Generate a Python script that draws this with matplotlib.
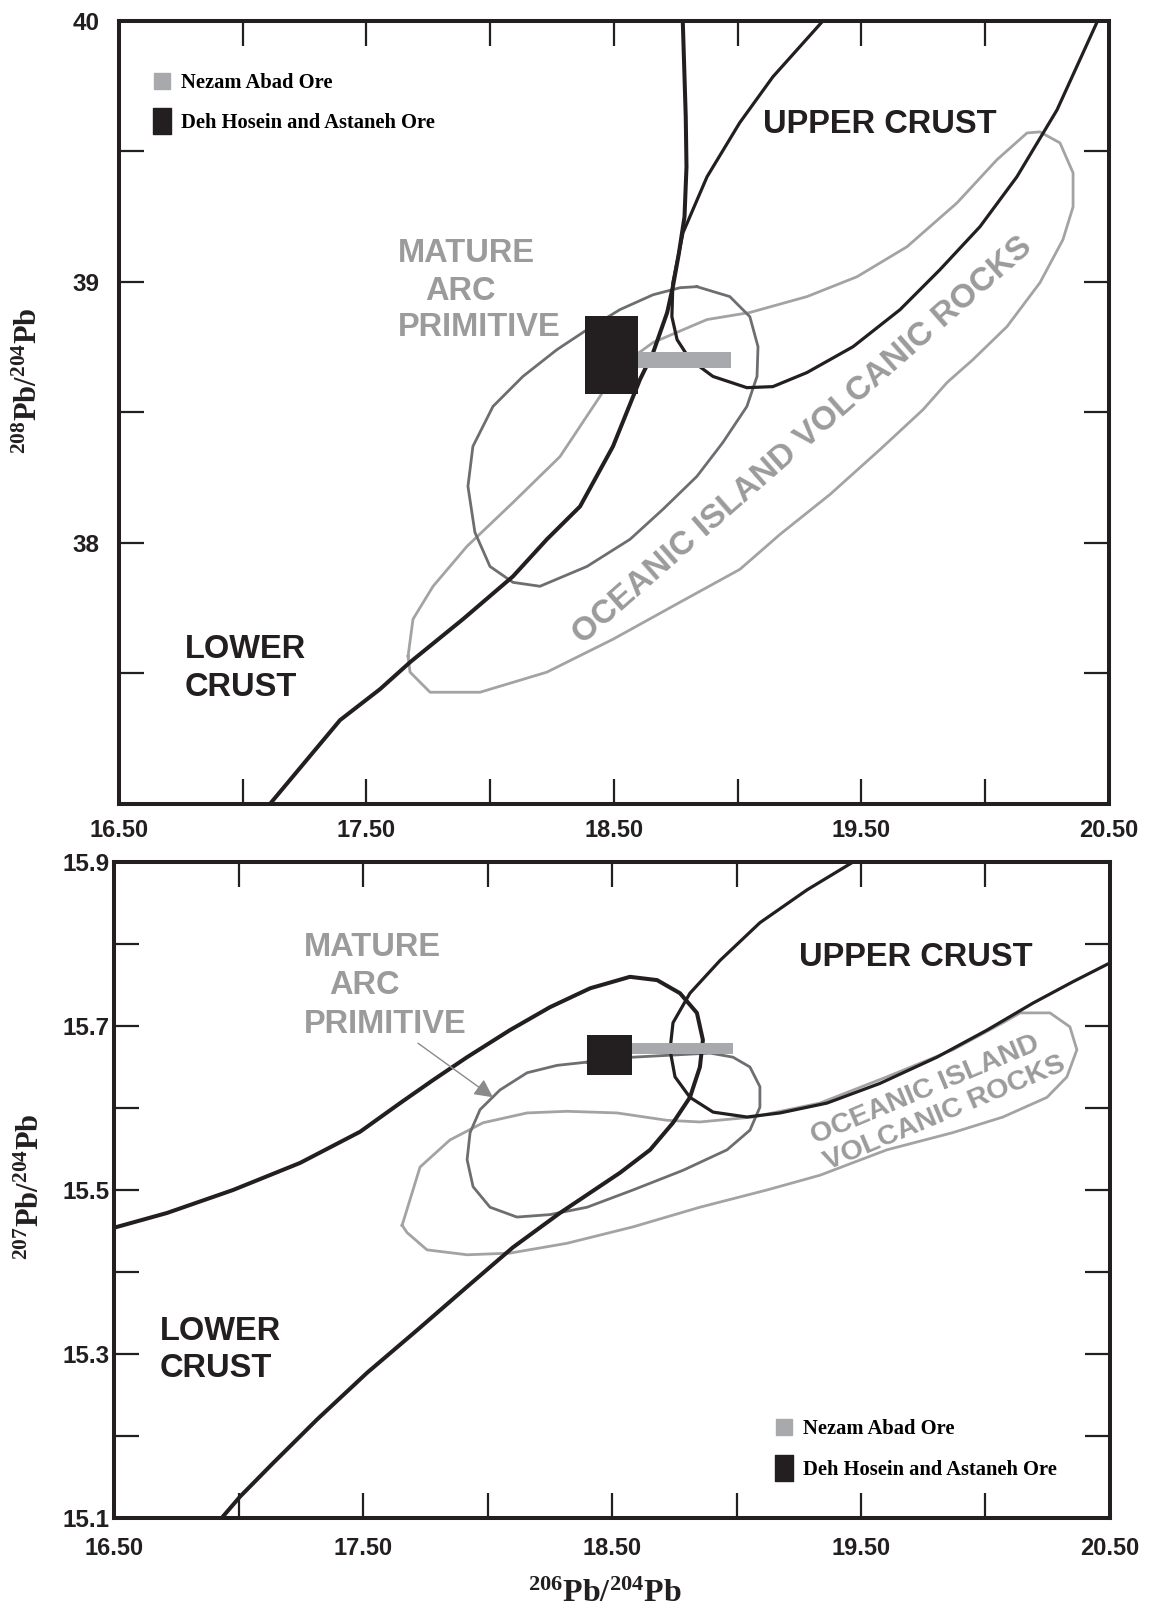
import matplotlib
matplotlib.use('Agg')
import matplotlib.pyplot as plt
from matplotlib.lines import Line2D
from matplotlib.patches import Rectangle
from matplotlib.path import Path

plt.rcParams['mathtext.fontset'] = 'custom'
plt.rcParams['mathtext.rm'] = 'Liberation Serif:bold'
plt.rcParams['mathtext.it'] = 'Liberation Serif:bold'
plt.rcParams['mathtext.bf'] = 'Liberation Serif:bold'

# ---------------- data: top panel (208Pb/204Pb vs 206Pb/204Pb) ----------------
top_lc_x = [17.110, 17.393, 17.555, 17.676, 17.890, 18.092, 18.229, 18.363, 18.496, 18.605,
            18.658, 18.715, 18.738, 18.762, 18.785, 18.793, 18.790, 18.778]
top_lc_y = [37.000, 37.321, 37.440, 37.543, 37.708, 37.872, 38.014, 38.140, 38.370, 38.626,
            38.729, 38.883, 38.982, 39.108, 39.250, 39.441, 39.633, 40.000]

top_uc_x = [19.344, 19.142, 19.008, 18.876, 18.779, 18.738, 18.734, 18.755, 18.807, 18.900,
            19.037, 19.142, 19.280, 19.466, 19.656, 19.817, 19.979, 20.128, 20.290, 20.452]
top_uc_y = [40.000, 39.786, 39.610, 39.403, 39.189, 38.997, 38.867, 38.779, 38.703, 38.638,
            38.595, 38.599, 38.653, 38.752, 38.894, 39.047, 39.212, 39.403, 39.659, 39.996]

top_arc_x = [18.835, 18.968, 19.049, 19.082, 19.078, 19.037, 18.940, 18.835, 18.698, 18.565,
             18.391, 18.201, 18.092, 17.999, 17.938, 17.910, 17.930, 18.011, 18.132, 18.270,
             18.391, 18.524, 18.658, 18.767, 18.835]
top_arc_y = [38.982, 38.944, 38.867, 38.752, 38.638, 38.523, 38.385, 38.255, 38.129, 38.014,
             37.910, 37.834, 37.849, 37.910, 38.041, 38.217, 38.370, 38.523, 38.638, 38.741,
             38.817, 38.894, 38.951, 38.978, 38.982]

top_oib_x = [17.668, 17.688, 17.769, 17.906, 18.092, 18.282, 18.443, 18.524, 18.658, 18.876,
             19.049, 19.280, 19.482, 19.684, 19.886, 20.047, 20.169, 20.221, 20.302, 20.355,
             20.355, 20.314, 20.221, 20.088, 19.951, 19.846, 19.749, 19.575, 19.373, 19.171,
             19.009, 18.767, 18.496, 18.229, 17.959, 17.757, 17.676, 17.668]
top_oib_y = [37.566, 37.708, 37.834, 37.987, 38.155, 38.331, 38.561, 38.676, 38.768, 38.856,
             38.883, 38.944, 39.020, 39.135, 39.303, 39.468, 39.571, 39.575, 39.533, 39.418,
             39.288, 39.162, 38.997, 38.829, 38.703, 38.615, 38.511, 38.358, 38.186, 38.033,
             37.899, 37.773, 37.631, 37.505, 37.428, 37.428, 37.505, 37.566]

top_deh_x = [18.383, 18.597]
top_deh_y = [38.569, 38.871]
top_nez_x = [18.597, 18.973]
top_nez_y = [38.672, 38.733]

# ---------------- data: bottom panel (207Pb/204Pb vs 206Pb/204Pb) ----------------
bot_lc_x = [16.500, 16.713, 16.978, 17.247, 17.488, 17.649, 17.781, 17.918, 18.090, 18.251,
            18.412, 18.572, 18.681, 18.773, 18.841, 18.865, 18.853, 18.813, 18.745, 18.653,
            18.532, 18.291, 18.102, 17.918, 17.717, 17.516, 17.315, 17.139, 17.006, 16.938]
bot_lc_y = [15.454, 15.472, 15.500, 15.533, 15.571, 15.606, 15.634, 15.662, 15.695, 15.723,
            15.746, 15.760, 15.756, 15.740, 15.716, 15.683, 15.650, 15.613, 15.582, 15.549,
            15.521, 15.472, 15.430, 15.382, 15.329, 15.277, 15.220, 15.167, 15.126, 15.102]

bot_uc_x = [19.468, 19.283, 19.094, 18.934, 18.813, 18.745, 18.733, 18.753, 18.813, 18.906,
            19.042, 19.175, 19.363, 19.576, 19.805, 20.006, 20.191, 20.351, 20.500]
bot_uc_y = [15.900, 15.866, 15.826, 15.780, 15.740, 15.704, 15.671, 15.638, 15.613, 15.595,
            15.589, 15.594, 15.606, 15.630, 15.662, 15.695, 15.728, 15.754, 15.777]

bot_arc_x = [18.400, 18.279, 18.159, 18.050, 17.970, 17.930, 17.918, 17.942, 18.010, 18.118,
             18.251, 18.400, 18.584, 18.785, 18.962, 19.054, 19.094, 19.094, 19.054, 18.986,
             18.894, 18.584, 18.400]
bot_arc_y = [15.656, 15.652, 15.643, 15.622, 15.598, 15.570, 15.537, 15.504, 15.479, 15.467,
             15.470, 15.479, 15.500, 15.524, 15.549, 15.573, 15.601, 15.626, 15.650, 15.662,
             15.667, 15.662, 15.656]

bot_oib_x = [17.657, 17.729, 17.849, 17.982, 18.159, 18.319, 18.520, 18.721, 18.853, 19.066,
             19.335, 19.604, 19.869, 20.070, 20.139, 20.259, 20.339, 20.367, 20.327, 20.247,
             20.070, 19.869, 19.604, 19.335, 19.122, 18.853, 18.584, 18.319, 18.090, 17.918,
             17.757, 17.677, 17.657]
bot_oib_y = [15.457, 15.528, 15.561, 15.582, 15.594, 15.596, 15.594, 15.585, 15.583, 15.589,
             15.606, 15.638, 15.671, 15.704, 15.716, 15.716, 15.699, 15.671, 15.638, 15.613,
             15.589, 15.570, 15.549, 15.518, 15.500, 15.479, 15.455, 15.435, 15.423, 15.421,
             15.427, 15.448, 15.457]

bot_deh_x = [18.400, 18.580]
bot_deh_y = [15.640, 15.689]
bot_nez_x = [18.580, 18.986]
bot_nez_y = [15.666, 15.679]

x_ticks = [16.5, 17.0, 17.5, 18.0, 18.5, 19.0, 19.5, 20.0, 20.5]
x_ticklabels = ['16.50', '', '17.50', '', '18.50', '', '19.50', '', '20.50']
top_y_ticks = [37.0, 37.5, 38.0, 38.5, 39.0, 39.5, 40.0]
top_y_ticklabels = ['', '', '38', '', '39', '', '40']
bot_y_ticks = [15.1, 15.2, 15.3, 15.4, 15.5, 15.6, 15.7, 15.8, 15.9]
bot_y_ticklabels = ['15.1', '', '15.3', '', '15.5', '', '15.7', '', '15.9']

legend_labels = ['Nezam Abad Ore', 'Deh Hosein and Astaneh Ore']

# ---------------- style ----------------
BLACK = '#231f20'
DARK = '#6d6e71'
LIGHT = '#a3a3a3'
TXTGRAY = '#9b9b9b'
LEGGRAY = '#a7a9ac'
SANS = 'Liberation Sans'
NARROW = ['Liberation Sans Narrow', 'Liberation Sans']
SERIF = 'Liberation Serif'

fig = plt.figure(figsize=(11.53, 16.14), dpi=100)
ax1 = fig.add_axes([0.1032, 0.5019, 0.8586, 0.4851])
ax2 = fig.add_axes([0.0989, 0.0595, 0.8638, 0.4064])

tall = Path([(-0.34, -0.5), (0.34, -0.5), (0.34, 0.5), (-0.34, 0.5), (-0.34, -0.5)],
            [Path.MOVETO, Path.LINETO, Path.LINETO, Path.LINETO, Path.CLOSEPOLY])
handles = [Line2D([], [], ls='none', marker='s', markersize=12.2, color=LEGGRAY, mec=LEGGRAY),
           Line2D([], [], ls='none', marker=tall, markersize=18.7, color=BLACK, mec=BLACK)]


def style_axes(ax, yticks, ylabels, ylim, xpad, ypad):
    ax.set_xlim(16.5, 20.5)
    ax.set_ylim(*ylim)
    ax.set_xticks(x_ticks)
    ax.set_xticklabels(x_ticklabels)
    ax.set_yticks(yticks)
    ax.set_yticklabels(ylabels)
    ax.tick_params(direction='in', length=18, width=1.6, color=BLACK, top=True, right=True)
    ax.tick_params(axis='x', pad=xpad)
    ax.tick_params(axis='y', pad=ypad)
    for lab in ax.get_xticklabels():
        lab.set_family(NARROW)
        lab.set_fontweight('bold')
        lab.set_fontsize(17)
        lab.set_color(BLACK)
    for lab in ax.get_yticklabels():
        lab.set_family(SANS)
        lab.set_fontweight('bold')
        lab.set_fontsize(17.5)
        lab.set_color(BLACK)
    for sp in ax.spines.values():
        sp.set_linewidth(2.9)
        sp.set_color(BLACK)


def add_legend(ax, anchor):
    ax.legend(handles, legend_labels, loc='center left', bbox_to_anchor=anchor,
              frameon=False, borderpad=0, borderaxespad=0, handlelength=1.0,
              handletextpad=0.45, labelspacing=1.0,
              prop={'family': SERIF, 'weight': 'bold', 'size': 14.8})


# ---------- top panel ----------
ax = ax1
ax.plot(top_oib_x, top_oib_y, color=LIGHT, lw=2.0, zorder=2)
ax.plot(top_arc_x, top_arc_y, color=DARK, lw=2.0, zorder=2)
ax.plot(top_uc_x, top_uc_y, color=BLACK, lw=2.3, zorder=3)
ax.plot(top_lc_x, top_lc_y, color=BLACK, lw=2.9, zorder=3)
ax.add_patch(Rectangle((top_nez_x[0], top_nez_y[0]), top_nez_x[1] - top_nez_x[0],
                       top_nez_y[1] - top_nez_y[0], color=LEGGRAY, lw=0, zorder=4))
ax.add_patch(Rectangle((top_deh_x[0], top_deh_y[0]), top_deh_x[1] - top_deh_x[0],
                       top_deh_y[1] - top_deh_y[0], color=BLACK, lw=0, zorder=5))
style_axes(ax, top_y_ticks, top_y_ticklabels, (37.0, 40.0), 11, 14)

ax.text(19.575, 39.602, 'UPPER CRUST', family=SANS, weight='bold', fontsize=23.5,
        color=BLACK, ha='center', va='center')
ax.text(17.627, 39.110, 'MATURE', family=SANS, weight='bold', fontsize=23.5,
        color=TXTGRAY, ha='left', va='center')
ax.text(17.736, 38.964, 'ARC', family=SANS, weight='bold', fontsize=23.5,
        color=TXTGRAY, ha='left', va='center')
ax.text(17.627, 38.825, 'PRIMITIVE', family=SANS, weight='bold', fontsize=23.5,
        color=TXTGRAY, ha='left', va='center')
ax.text(16.767, 37.590, 'LOWER', family=SANS, weight='bold', fontsize=23.5,
        color=BLACK, ha='left', va='center')
ax.text(16.767, 37.448, 'CRUST', family=SANS, weight='bold', fontsize=23.5,
        color=BLACK, ha='left', va='center')
ax.text(19.262, 38.391, 'OCEANIC ISLAND VOLCANIC ROCKS', family=SANS, weight='bold',
        fontsize=24, color=TXTGRAY, ha='center', va='center', rotation=41.3,
        rotation_mode='anchor')
add_legend(ax, (0.0326, 0.895))

# ---------- bottom panel ----------
ax = ax2
ax.plot(bot_oib_x, bot_oib_y, color=LIGHT, lw=2.0, zorder=2)
ax.plot(bot_arc_x, bot_arc_y, color=DARK, lw=2.0, zorder=2)
ax.plot(bot_uc_x, bot_uc_y, color=BLACK, lw=2.3, zorder=3)
ax.plot(bot_lc_x, bot_lc_y, color=BLACK, lw=2.9, zorder=3)
ax.add_patch(Rectangle((bot_nez_x[0], bot_nez_y[0]), bot_nez_x[1] - bot_nez_x[0],
                       bot_nez_y[1] - bot_nez_y[0], color=LEGGRAY, lw=0, zorder=4))
ax.add_patch(Rectangle((bot_deh_x[0], bot_deh_y[0]), bot_deh_x[1] - bot_deh_x[0],
                       bot_deh_y[1] - bot_deh_y[0], color=BLACK, lw=0, zorder=5))
style_axes(ax, bot_y_ticks, bot_y_ticklabels, (15.1, 15.9), 14, 3)

ax.text(19.721, 15.784, 'UPPER CRUST', family=SANS, weight='bold', fontsize=23.5,
        color=BLACK, ha='center', va='center')
ax.text(17.263, 15.796, 'MATURE', family=SANS, weight='bold', fontsize=23.5,
        color=TXTGRAY, ha='left', va='center')
ax.text(17.363, 15.749, 'ARC', family=SANS, weight='bold', fontsize=23.5,
        color=TXTGRAY, ha='left', va='center')
ax.text(17.263, 15.702, 'PRIMITIVE', family=SANS, weight='bold', fontsize=23.5,
        color=TXTGRAY, ha='left', va='center')
ax.text(16.685, 15.327, 'LOWER', family=SANS, weight='bold', fontsize=23.5,
        color=BLACK, ha='left', va='center')
ax.text(16.685, 15.282, 'CRUST', family=SANS, weight='bold', fontsize=23.5,
        color=BLACK, ha='left', va='center')
ax.text(19.757, 15.622, 'OCEANIC ISLAND', family=SANS, weight='bold', fontsize=20.5,
        color=TXTGRAY, ha='center', va='center', rotation=22.8, rotation_mode='anchor')
ax.text(19.837, 15.594, 'VOLCANIC ROCKS', family=SANS, weight='bold', fontsize=20.5,
        color=TXTGRAY, ha='center', va='center', rotation=22.8, rotation_mode='anchor')
ax.annotate('', xy=(18.022, 15.613), xytext=(17.721, 15.679),
            arrowprops=dict(arrowstyle='-|>', color='#8a8a8a', lw=1.0,
                            mutation_scale=28, shrinkA=0, shrinkB=0))
add_legend(ax, (0.662, 0.1045))

# ---------- axis titles ----------
fig.text(0.0243, 0.764, r'$^{208}\mathrm{Pb}/^{204}\mathrm{Pb}$', fontsize=22,
         rotation=90, ha='center', va='center', color=BLACK)
fig.text(0.026, 0.2646, r'$^{207}\mathrm{Pb}/^{204}\mathrm{Pb}$', fontsize=22,
         rotation=90, ha='center', va='center', color=BLACK)
fig.text(0.5247, 0.0124, r'$^{206}\mathrm{Pb}/^{204}\mathrm{Pb}$', fontsize=23,
         ha='center', va='center', color=BLACK)

fig.savefig('out.png', dpi=100)
